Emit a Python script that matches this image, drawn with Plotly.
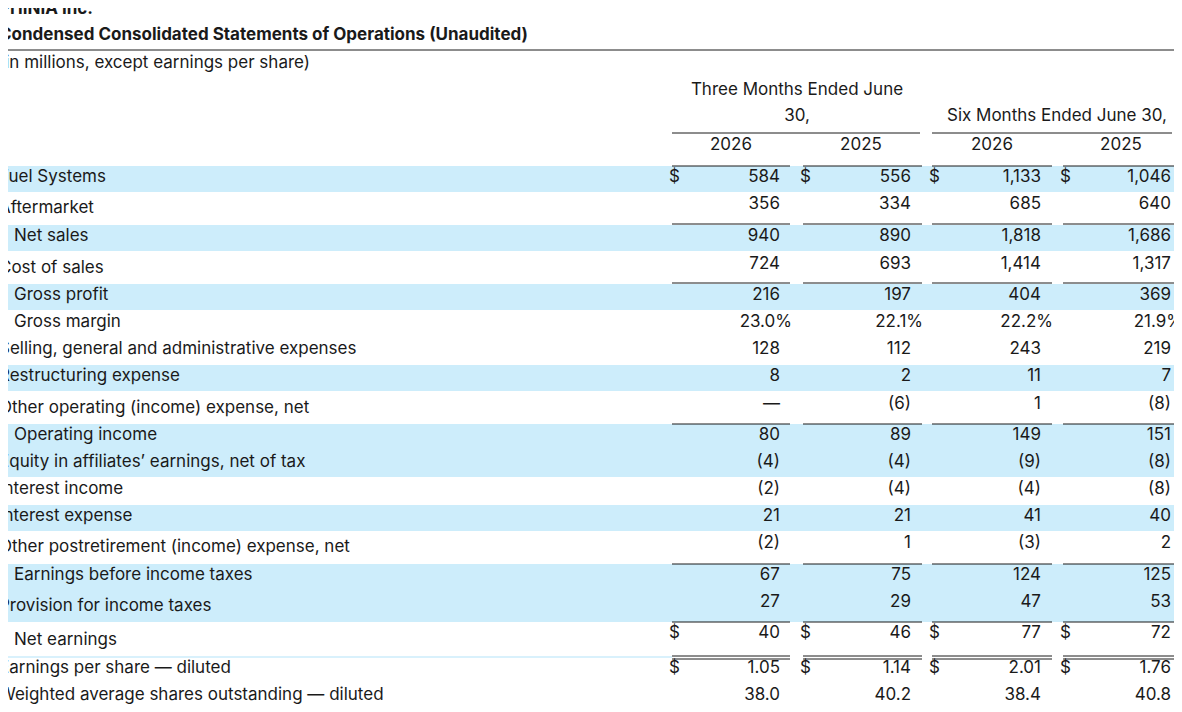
import plotly.graph_objects as go

# statement lines
labels = [
    "Fuel Systems", "Aftermarket", "Net sales", "Cost of sales", "Gross profit",
    "Gross margin", "Selling, general and administrative expenses",
    "Restructuring expense", "Other operating (income) expense, net",
    "Operating income", "Equity in affiliates’ earnings, net of tax",
    "Interest income", "Interest expense",
    "Other postretirement (income) expense, net", "Earnings before income taxes",
    "Provision for income taxes", "Net earnings", "Earnings per share — diluted",
    "Weighted average shares outstanding — diluted",
]
indented = [False, False, True, False, True, True, False, False, False, True,
            False, False, False, False, True, False, True, False, False]
q2_2026 = ["584", "356", "940", "724", "216", "23.0%", "128", "8", "—", "80",
           "(4)", "(2)", "21", "(2)", "67", "27", "40", "1.05", "38.0"]
q2_2025 = ["556", "334", "890", "693", "197", "22.1%", "112", "2", "(6)", "89",
           "(4)", "(4)", "21", "1", "75", "29", "46", "1.14", "40.2"]
h1_2026 = ["1,133", "685", "1,818", "1,414", "404", "22.2%", "243", "11", "1", "149",
           "(9)", "(4)", "41", "(3)", "124", "47", "77", "2.01", "38.4"]
h1_2025 = ["1,046", "640", "1,686", "1,317", "369", "21.9%", "219", "7", "(8)", "151",
           "(8)", "(8)", "40", "2", "125", "53", "72", "1.76", "40.8"]
columns = [q2_2026, q2_2025, h1_2026, h1_2025]
years = ["2026", "2025", "2026", "2025"]
dollar_rows = ["Fuel Systems", "Net earnings", "Earnings per share — diluted"]

# layout (pixel positions on a full-frame axis)
label_y = [178, 209, 237, 269, 296, 323, 350, 377, 409, 436, 463, 490, 517, 548,
           576, 607, 641, 669, 696]
value_y = [178, 205, 237, 265, 296, 323, 350, 377, 405, 436, 463, 490, 517, 544,
           576, 603, 634, 669, 696]
col_left = [672, 803, 932, 1063]
col_right = [790, 922, 1052, 1182]
val_right = [780, 911, 1041, 1171]
bands = [(166, 192), (225, 251), (284, 310), (365, 391), (424, 477), (505, 531), (564, 622)]
rule_y = [166, 224, 283, 424, 564, 622]

INK = "#1a1a1a"
FONT = "Inter"
SZ = 17
OFF = 8  # page body margin

fig = go.Figure()
shapes = []
for y0, y1 in bands:
    shapes.append(dict(type="rect", x0=0, x1=1190, y0=y0, y1=y1,
                       fillcolor="#cdedfb", line_width=0, layer="below"))
for y in rule_y:
    for l, r in zip(col_left, col_right):
        shapes.append(dict(type="line", x0=l, x1=r, y0=y, y1=y, line=dict(color=INK, width=1)))
for y in (656, 659):
    for l, r in zip(col_left, col_right):
        shapes.append(dict(type="line", x0=l, x1=r, y0=y, y1=y, line=dict(color=INK, width=1)))
shapes.append(dict(type="line", x0=0, x1=672, y0=657, y1=657, line=dict(color="#cdedfb", width=1.5)))
shapes.append(dict(type="line", x0=0, x1=1190, y0=50, y1=50, line=dict(color=INK, width=1)))
shapes.append(dict(type="line", x0=672, x1=920, y0=133, y1=133, line=dict(color=INK, width=1)))
shapes.append(dict(type="line", x0=932, x1=1172, y0=133, y1=133, line=dict(color=INK, width=1)))

# row labels
fig.add_trace(go.Scatter(
    x=[14 if ind else -1 for ind in indented], y=label_y,
    text=labels, mode="text", textposition="middle right",
    textfont=dict(family=FONT, size=SZ, color=INK), hoverinfo="skip"))

# values
for c, vals in enumerate(columns):
    xs = [val_right[c] + (12 if v.endswith("%") else 0) for v in vals]
    fig.add_trace(go.Scatter(
        x=xs, y=value_y, text=vals, mode="text", textposition="middle left",
        textfont=dict(family=FONT, size=SZ, color=INK), hoverinfo="skip"))
    dy = [value_y[labels.index(r)] for r in dollar_rows]
    fig.add_trace(go.Scatter(
        x=[col_left[c] - 3] * len(dy), y=dy, text=["$"] * len(dy), mode="text",
        textposition="middle right",
        textfont=dict(family=FONT, size=SZ, color=INK), hoverinfo="skip"))

# column headers
fig.add_trace(go.Scatter(
    x=[731, 861, 992, 1121], y=[146] * 4,
    text=years, mode="text", textfont=dict(family=FONT, size=SZ, color=INK),
    hoverinfo="skip"))
fig.add_trace(go.Scatter(
    x=[797, 797, 1057], y=[91, 117, 117],
    text=["Three Months Ended June", "30,", "Six Months Ended June 30,"],
    mode="text", textfont=dict(family=FONT, size=SZ, color=INK), hoverinfo="skip"))

# titles
fig.add_trace(go.Scatter(
    x=[-1, -1, -1], y=[10, 36, 64],
    text=["<b>PHINIA Inc.</b>", "<b>Condensed Consolidated Statements of Operations (Unaudited)</b>",
          "(in millions, except earnings per share)"],
    mode="text", textposition="middle right",
    textfont=dict(family=FONT, size=SZ, color=INK), hoverinfo="skip"))

fig.update_layout(
    width=1182, height=712, margin=dict(l=0, r=0, t=0, b=0),
    plot_bgcolor="white", paper_bgcolor="white", showlegend=False, shapes=shapes,
    xaxis=dict(range=[OFF, 1182 + OFF], visible=False, fixedrange=True),
    yaxis=dict(range=[712 + OFF, OFF], visible=False, fixedrange=True),
)
fig.write_html("out.html")
